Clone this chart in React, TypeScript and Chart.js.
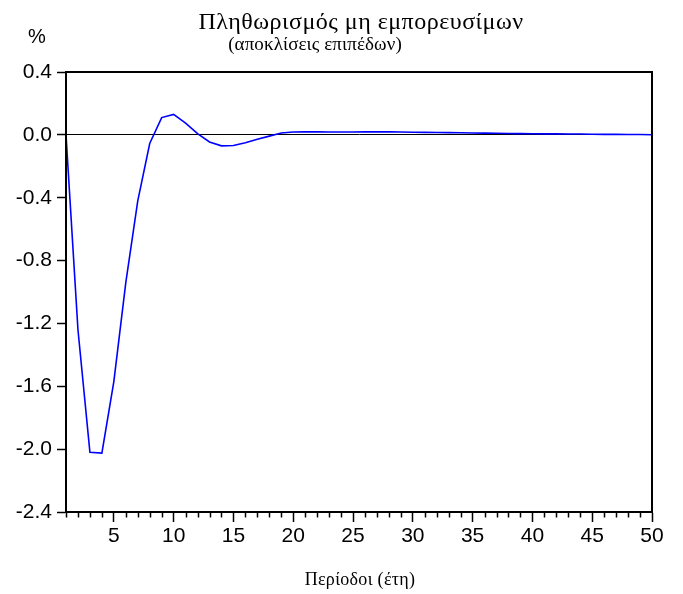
import React, { useEffect, useRef } from "react";
import { Chart, registerables } from "chart.js";

Chart.register(...registerables);

const TITLE = "Πληθωρισμός μη εμπορευσίμων";
const SUBTITLE = "(αποκλίσεις επιπέδων)";
const X_TITLE = "Περίοδοι (έτη)";
const Y_UNIT = "%";

const periods: number[] = Array.from({ length: 50 }, (_, i) => i + 1);
const values: number[] = [
  0, -1.24, -2.02, -2.025, -1.57, -0.94, -0.42, -0.055, 0.11, 0.13,
  0.075, 0.008, -0.045, -0.07, -0.068, -0.05, -0.028, -0.008, 0.012, 0.018,
  0.019, 0.019, 0.018, 0.018, 0.018, 0.019, 0.019, 0.019, 0.018, 0.017,
  0.016, 0.015, 0.014, 0.013, 0.012, 0.011, 0.010, 0.009, 0.008, 0.007,
  0.006, 0.006, 0.005, 0.005, 0.004, 0.003, 0.003, 0.002, 0.002, 0.001,
];
const yMin = -2.4;
const yMax = 0.4;
const yStep = 0.4;

const decorPlugin = {
  id: "decor",
  afterDraw(chart: any) {
    const { ctx, chartArea } = chart;
    const xs = chart.scales.x;
    ctx.save();
    // frame
    ctx.strokeStyle = "#000";
    ctx.lineWidth = 2;
    ctx.strokeRect(chartArea.left, chartArea.top, chartArea.right - chartArea.left, chartArea.bottom - chartArea.top);
    // minor ticks
    ctx.lineWidth = 1.5;
    ctx.beginPath();
    for (const p of periods) {
      if (p % 5 === 0) continue;
      const px = Math.round(xs.getPixelForValue(p)) + 0.5;
      ctx.moveTo(px, chartArea.bottom);
      ctx.lineTo(px, chartArea.bottom + 5.5);
    }
    ctx.stroke();
    // texts
    ctx.fillStyle = "#000";
    ctx.textAlign = "center";
    ctx.textBaseline = "alphabetic";
    (ctx as any).letterSpacing = "0.5px";
    ctx.font = '24px "Liberation Serif", serif';
    ctx.fillText(TITLE, 361, 29);
    (ctx as any).letterSpacing = "0.1px";
    ctx.font = '19px "Liberation Serif", serif';
    ctx.fillText(SUBTITLE, 315, 50);
    (ctx as any).letterSpacing = "0.3px";
    ctx.font = '18px "Liberation Serif", serif';
    ctx.fillText(X_TITLE, 360, 585);
    (ctx as any).letterSpacing = "0px";
    ctx.font = '20px "Liberation Sans", sans-serif';
    ctx.fillText(Y_UNIT, 37, 43);
    ctx.restore();
  },
};

export default function App() {
  const ref = useRef<HTMLCanvasElement | null>(null);
  useEffect(() => {
    if (!ref.current) return;
    const chart = new Chart(ref.current, {
      type: "line",
      data: {
        labels: periods,
        datasets: [
          {
            data: periods.map((p, i) => ({ x: p, y: values[i] })),
            borderColor: "#0000FF",
            borderWidth: 1.6,
            pointRadius: 0,
            tension: 0,
            fill: false,
          },
        ],
      },
      options: {
        animation: false,
        responsive: false,
        layout: { padding: { top: 72, right: 31, left: 0, bottom: 0 } },
        plugins: { legend: { display: false }, tooltip: { enabled: false }, title: { display: false } },
        scales: {
          x: {
            type: "linear",
            min: 1,
            max: 50,
            afterFit: (s: any) => { s.height = 82; },
            ticks: {
              stepSize: 1,
              autoSkip: false,
              maxRotation: 0,
              padding: 2,
              color: "#000",
              font: { family: '"Liberation Sans", sans-serif', size: 21 },
              callback: (v: any) => (Number(v) % 5 === 0 ? String(v) : ""),
            },
            grid: {
              drawOnChartArea: false,
              tickLength: 10,
              tickWidth: 1.5,
              tickColor: (c: any) => (c.tick && c.tick.value % 5 === 0 ? "#000" : "rgba(0,0,0,0)"),
            },
            border: { color: "#000", width: 2 },
          },
          y: {
            min: yMin,
            max: yMax,
            afterFit: (s: any) => { s.width = 66; },
            ticks: {
              stepSize: yStep,
              padding: 5,
              color: "#000",
              font: { family: '"Liberation Sans", sans-serif', size: 21 },
              callback: (v: any) => (Math.abs(Number(v)) < 1e-9 ? "0.0" : Number(v).toFixed(1)),
            },
            grid: {
              drawOnChartArea: true,
              tickLength: 9,
              tickWidth: 1.5,
              tickColor: "#000",
              lineWidth: 1,
              color: (c: any) => (c.tick && Math.abs(c.tick.value) < 1e-9 ? "#000" : "rgba(0,0,0,0)"),
            },
            border: { color: "#000", width: 2 },
          },
        },
      },
      plugins: [decorPlugin],
    } as any);
    return () => chart.destroy();
  }, []);
  return (
    <div style={{ position: "absolute", left: 0, top: 0, width: 683, height: 594, background: "#fff" }}>
      <canvas ref={ref} width={683} height={594} />
    </div>
  );
}
